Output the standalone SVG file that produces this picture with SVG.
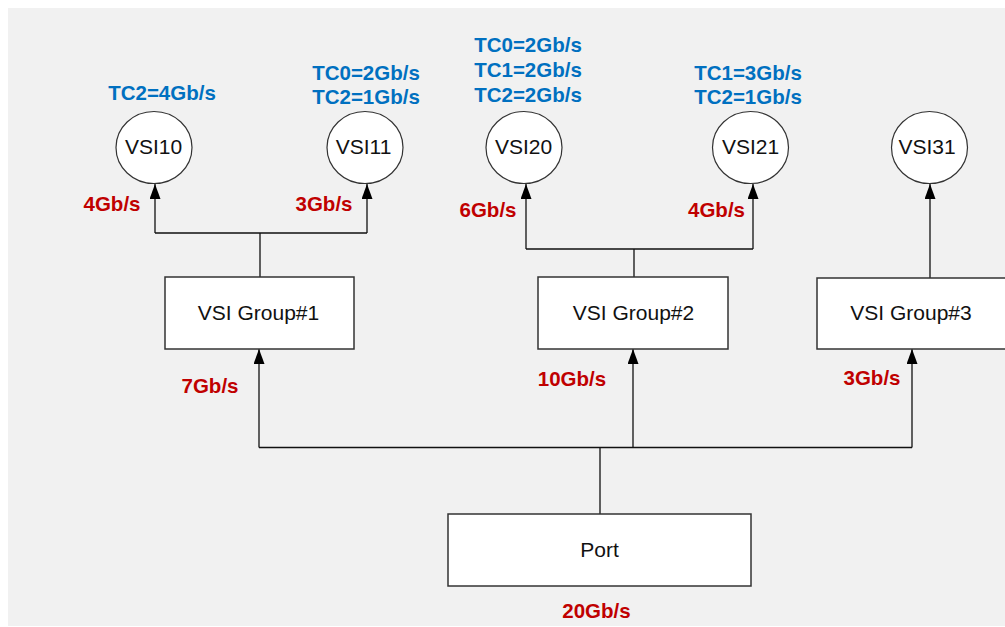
<svg xmlns="http://www.w3.org/2000/svg" width="1005" height="627" viewBox="0 0 1005 627">
<defs>
<marker id="arr" viewBox="0 0 15 11" refX="15" refY="5.5" markerWidth="15" markerHeight="11" markerUnits="userSpaceOnUse" orient="auto">
<path d="M0,0 L15,5.5 L0,11 Z" fill="#000"/>
</marker>
<style>
.bg{fill:#f1f1f1}
.box{fill:#fff;stroke:#333;stroke-width:1.5}
.circ{fill:#fff;stroke:#333;stroke-width:1.2}
.ln{fill:none;stroke:#111;stroke-width:1.3}
.t{font-family:"Liberation Sans",Arial,sans-serif;font-size:21px;fill:#111;text-anchor:middle}
.tc{font-family:"Liberation Sans",Arial,sans-serif;font-size:20.5px;font-weight:bold;fill:#0070c0;text-anchor:middle}
.bw{font-family:"Liberation Sans",Arial,sans-serif;font-size:20.5px;font-weight:bold;fill:#c00000;text-anchor:middle}
</style>
</defs>
<rect class="bg" x="8" y="8" width="997" height="618"/>

<g id="connectors">
<path class="ln" d="M260,277 V233 M155,233 H367"/>
<path class="ln" d="M155,233 V184" marker-end="url(#arr)"/>
<path class="ln" d="M367,233 V184" marker-end="url(#arr)"/>
<path class="ln" d="M634,277 V249 M526,249 H753"/>
<path class="ln" d="M526,249 V184" marker-end="url(#arr)"/>
<path class="ln" d="M753,249 V184" marker-end="url(#arr)"/>
<path class="ln" d="M930,278 V184" marker-end="url(#arr)"/>
<path class="ln" d="M600,514 V447.5 M259,447.5 H912"/>
<path class="ln" d="M259,447.5 V349" marker-end="url(#arr)"/>
<path class="ln" d="M633,447.5 V349" marker-end="url(#arr)"/>
<path class="ln" d="M912,447.5 V349" marker-end="url(#arr)"/>
</g>

<g id="vsi10">
<ellipse class="circ" cx="154" cy="147.5" rx="38" ry="36"/>
<text class="t" x="153.5" y="154">VSI10</text>
<text class="tc" x="162" y="100">TC2=4Gb/s</text>
<text class="bw" x="112" y="211">4Gb/s</text>
</g>
<g id="vsi11">
<ellipse class="circ" cx="365" cy="147.5" rx="38" ry="36"/>
<text class="t" x="363.5" y="153.5">VSI11</text>
<text class="tc" x="366" y="80">TC0=2Gb/s</text>
<text class="tc" x="366" y="103.5">TC2=1Gb/s</text>
<text class="bw" x="324" y="211">3Gb/s</text>
</g>
<g id="vsi20">
<ellipse class="circ" cx="524" cy="147.5" rx="38" ry="36"/>
<text class="t" x="523.5" y="153.5">VSI20</text>
<text class="tc" x="528" y="52">TC0=2Gb/s</text>
<text class="tc" x="528" y="77">TC1=2Gb/s</text>
<text class="tc" x="528" y="102">TC2=2Gb/s</text>
<text class="bw" x="488" y="217">6Gb/s</text>
</g>
<g id="vsi21">
<ellipse class="circ" cx="750.5" cy="147.5" rx="38" ry="36"/>
<text class="t" x="750.5" y="154">VSI21</text>
<text class="tc" x="748" y="79.5">TC1=3Gb/s</text>
<text class="tc" x="748" y="104">TC2=1Gb/s</text>
<text class="bw" x="716.5" y="217">4Gb/s</text>
</g>
<g id="vsi31">
<ellipse class="circ" cx="929.5" cy="147.5" rx="38" ry="36"/>
<text class="t" x="927" y="154">VSI31</text>
</g>

<g id="group1">
<rect class="box" x="165" y="277" width="189" height="72"/>
<text class="t" x="258.5" y="320">VSI Group#1</text>
<text class="bw" x="210" y="393">7Gb/s</text>
</g>
<g id="group2">
<rect class="box" x="538" y="277" width="190" height="72"/>
<text class="t" x="633.5" y="320">VSI Group#2</text>
<text class="bw" x="572" y="386">10Gb/s</text>
</g>
<g id="group3">
<rect class="box" x="817" y="278" width="190" height="71"/>
<text class="t" x="911" y="320">VSI Group#3</text>
<text class="bw" x="872" y="384.5">3Gb/s</text>
</g>
<g id="port">
<rect class="box" x="448" y="514" width="303" height="72"/>
<text class="t" x="599.5" y="556.5">Port</text>
<text class="bw" x="596.5" y="618">20Gb/s</text>
</g>
</svg>
